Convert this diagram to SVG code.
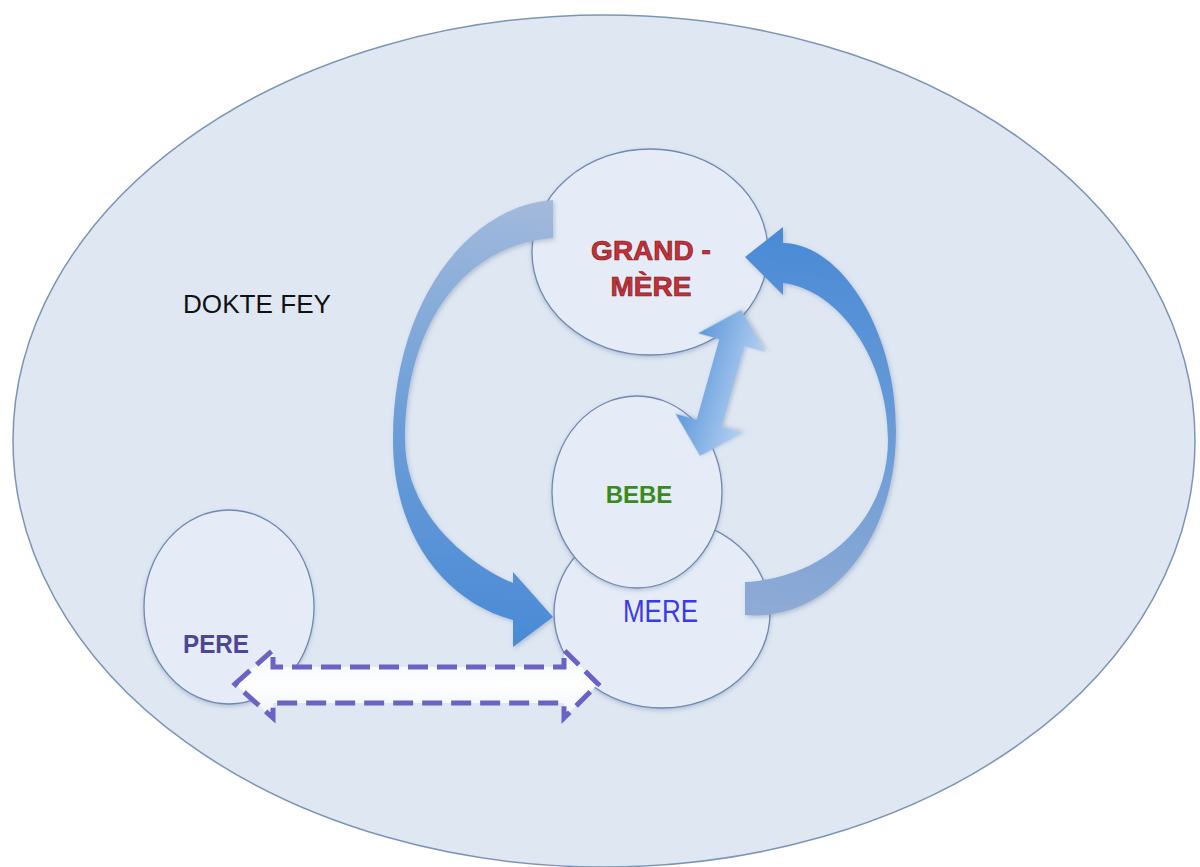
<svg xmlns="http://www.w3.org/2000/svg" width="1200" height="867" viewBox="0 0 1200 867">
  <style>
    .node { fill: #e5ecf7; stroke: #7189ae; stroke-width: 1.3; filter: url(#shadow); }
    .lbl { font-family: "Liberation Sans", Arial, sans-serif; }
    .dash { fill: url(#gWhite); stroke: #6a62c4; stroke-width: 5; stroke-dasharray: 20 9; stroke-linejoin: miter; }
  </style>
  <defs>
    <filter id="shadow" x="-10%" y="-10%" width="120%" height="125%">
      <feDropShadow dx="0" dy="2" stdDeviation="2" flood-color="#5f7aa3" flood-opacity="0.35"/>
    </filter>
    <filter id="ashadow" x="-10%" y="-10%" width="125%" height="125%">
      <feDropShadow dx="1.5" dy="2" stdDeviation="2" flood-color="#4a6388" flood-opacity="0.3"/>
    </filter>
    <linearGradient id="gA1" gradientUnits="userSpaceOnUse" x1="553" y1="200" x2="530" y2="645">
      <stop offset="0" stop-color="#a3badc"/>
      <stop offset="0.5" stop-color="#6d9ed8"/>
      <stop offset="1" stop-color="#4a8ad6"/>
    </linearGradient>
    <linearGradient id="gA2" gradientUnits="userSpaceOnUse" x1="745" y1="605" x2="785" y2="240">
      <stop offset="0" stop-color="#8eaad5"/>
      <stop offset="0.5" stop-color="#6a9cd7"/>
      <stop offset="1" stop-color="#4b8bd6"/>
    </linearGradient>
    <linearGradient id="gA3" x1="0" y1="0" x2="0" y2="1">
      <stop offset="0" stop-color="#5e98da"/>
      <stop offset="1" stop-color="#b6d1f3"/>
    </linearGradient>
    <linearGradient id="gWhite" x1="0" y1="0" x2="0" y2="1">
      <stop offset="0" stop-color="#eef3fa"/>
      <stop offset="0.5" stop-color="#ffffff"/>
      <stop offset="1" stop-color="#eef3fa"/>
    </linearGradient>
  </defs>

  <rect width="1200" height="867" fill="#ffffff"/>

  <g id="dokte-fey">
    <ellipse cx="604" cy="441" rx="591" ry="426" fill="#dfe7f3" stroke="#7d95b5" stroke-width="1.5"/>
    <text class="lbl" x="183" y="313" font-size="26" fill="#111111" textLength="148" lengthAdjust="spacingAndGlyphs">DOKTE FEY</text>
  </g>

  <g id="pere">
    <ellipse class="node" cx="229" cy="607" rx="85" ry="97"/>
    <text class="lbl" x="183" y="653" font-size="25" font-weight="bold" fill="#4f4596" textLength="66" lengthAdjust="spacingAndGlyphs">PERE</text>
  </g>

  <g id="grand-mere">
    <ellipse class="node" cx="650" cy="252" rx="118" ry="103"/>
    <text class="lbl" x="651" y="260" font-size="28" font-weight="bold" fill="#c3313a" stroke="#7e1b1b" stroke-width="0.7" text-anchor="middle">GRAND -</text>
    <text class="lbl" x="651" y="296" font-size="28" font-weight="bold" fill="#c3313a" stroke="#7e1b1b" stroke-width="0.7" text-anchor="middle">MÈRE</text>
  </g>

  <g id="mere">
    <ellipse class="node" cx="662" cy="613" rx="108" ry="95"/>
    <text class="lbl" x="623" y="622" font-size="31" fill="#3b3be6" textLength="75" lengthAdjust="spacingAndGlyphs">MERE</text>
  </g>

  <g id="bebe">
    <ellipse class="node" cx="637" cy="492" rx="85" ry="96"/>
    <text class="lbl" x="639" y="503" font-size="24" font-weight="bold" fill="#3a8a1e" text-anchor="middle">BEBE</text>
  </g>

  <g id="connectors">
    <path id="arrow-gm-to-mere" filter="url(#ashadow)" fill="url(#gA1)" d="M553,200 C470,205 393,300 393,440 C393,530 440,600 513,620 L513,647 L553,617 L513,572 L513,583 C470,565 405,515 405,440 C405,330 460,245 553,238 Z"/>
    <path id="arrow-mere-to-gm" filter="url(#ashadow)" fill="url(#gA2)" d="M745,615 C825,622 896,545 896,430 C896,326 838,243 783,243 L783,227 L745,257 L783,295 L783,283 C840,290 888,360 888,440 C888,520 825,578 745,582 Z"/>
    <path id="arrow-bebe-gm" filter="url(#ashadow)" fill="url(#gA3)" transform="translate(720.5,383) rotate(-74.3)" d="M-75.8,0 L-41.8,-35 L-41.8,-13 L41.8,-13 L41.8,-35 L75.8,0 L41.8,35 L41.8,13 L-41.8,13 L-41.8,35 Z"/>
    <path id="arrow-pere-mere" class="dash" d="M235,684 L273,650 L273,667 L564,667 L564,650 L598,684 L564,718 L564,703 L273,703 L273,718 Z"/>
  </g>
</svg>
